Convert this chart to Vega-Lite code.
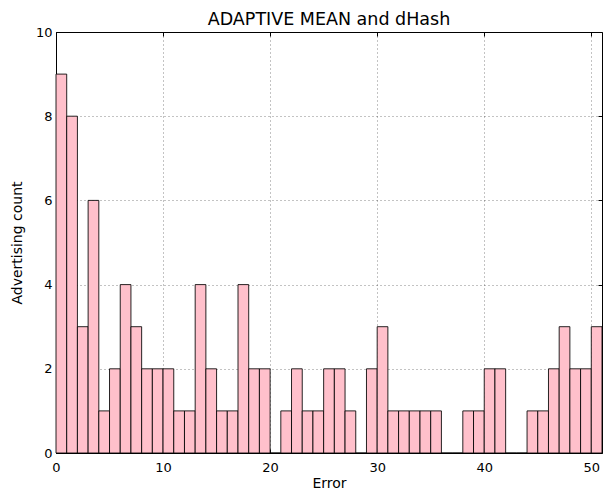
{
  "$schema": "https://vega.github.io/schema/vega-lite/v6.json",
  "width": 546,
  "height": 421,
  "autosize": {"type": "none"},
  "padding": {"left": 56, "top": 32, "right": 3, "bottom": 43},
  "background": "white",
  "title": {
    "text": "ADAPTIVE MEAN and dHash",
    "font": "DejaVu Sans",
    "fontSize": 17.5,
    "fontWeight": "normal",
    "color": "black",
    "offset": -2,
    "anchor": "middle"
  },
  "config": {
    "view": {"stroke": "black", "strokeWidth": 1},
    "axis": {
      "labelFont": "DejaVu Sans",
      "titleFont": "DejaVu Sans",
      "labelFontSize": 13,
      "titleFontSize": 14,
      "titleFontWeight": "normal",
      "labelColor": "black",
      "titleColor": "black",
      "labelFlush": false,
      "domain": false,
      "tickColor": "black",
      "tickSize": -4,
      "tickWidth": 1,
      "gridColor": "black",
      "gridOpacity": 0.8,
      "gridDash": [1, 3],
      "gridWidth": 0.6
    }
  },
  "resolve": {"axis": {"x": "independent", "y": "independent"}},
  "data": {
    "values": [
      {"bin_start": 0, "bin_end": 1, "count": 9},
      {"bin_start": 1, "bin_end": 2, "count": 8},
      {"bin_start": 2, "bin_end": 3, "count": 3},
      {"bin_start": 3, "bin_end": 4, "count": 6},
      {"bin_start": 4, "bin_end": 5, "count": 1},
      {"bin_start": 5, "bin_end": 6, "count": 2},
      {"bin_start": 6, "bin_end": 7, "count": 4},
      {"bin_start": 7, "bin_end": 8, "count": 3},
      {"bin_start": 8, "bin_end": 9, "count": 2},
      {"bin_start": 9, "bin_end": 10, "count": 2},
      {"bin_start": 10, "bin_end": 11, "count": 2},
      {"bin_start": 11, "bin_end": 12, "count": 1},
      {"bin_start": 12, "bin_end": 13, "count": 1},
      {"bin_start": 13, "bin_end": 14, "count": 4},
      {"bin_start": 14, "bin_end": 15, "count": 2},
      {"bin_start": 15, "bin_end": 16, "count": 1},
      {"bin_start": 16, "bin_end": 17, "count": 1},
      {"bin_start": 17, "bin_end": 18, "count": 4},
      {"bin_start": 18, "bin_end": 19, "count": 2},
      {"bin_start": 19, "bin_end": 20, "count": 2},
      {"bin_start": 20, "bin_end": 21, "count": 0},
      {"bin_start": 21, "bin_end": 22, "count": 1},
      {"bin_start": 22, "bin_end": 23, "count": 2},
      {"bin_start": 23, "bin_end": 24, "count": 1},
      {"bin_start": 24, "bin_end": 25, "count": 1},
      {"bin_start": 25, "bin_end": 26, "count": 2},
      {"bin_start": 26, "bin_end": 27, "count": 2},
      {"bin_start": 27, "bin_end": 28, "count": 1},
      {"bin_start": 28, "bin_end": 29, "count": 0},
      {"bin_start": 29, "bin_end": 30, "count": 2},
      {"bin_start": 30, "bin_end": 31, "count": 3},
      {"bin_start": 31, "bin_end": 32, "count": 1},
      {"bin_start": 32, "bin_end": 33, "count": 1},
      {"bin_start": 33, "bin_end": 34, "count": 1},
      {"bin_start": 34, "bin_end": 35, "count": 1},
      {"bin_start": 35, "bin_end": 36, "count": 1},
      {"bin_start": 36, "bin_end": 37, "count": 0},
      {"bin_start": 37, "bin_end": 38, "count": 0},
      {"bin_start": 38, "bin_end": 39, "count": 1},
      {"bin_start": 39, "bin_end": 40, "count": 1},
      {"bin_start": 40, "bin_end": 41, "count": 2},
      {"bin_start": 41, "bin_end": 42, "count": 2},
      {"bin_start": 42, "bin_end": 43, "count": 0},
      {"bin_start": 43, "bin_end": 44, "count": 0},
      {"bin_start": 44, "bin_end": 45, "count": 1},
      {"bin_start": 45, "bin_end": 46, "count": 1},
      {"bin_start": 46, "bin_end": 47, "count": 2},
      {"bin_start": 47, "bin_end": 48, "count": 3},
      {"bin_start": 48, "bin_end": 49, "count": 2},
      {"bin_start": 49, "bin_end": 50, "count": 2},
      {"bin_start": 50, "bin_end": 51, "count": 3}
    ]
  },
  "layer": [
    {
      "mark": {"type": "bar", "fill": "#ffc0cb", "stroke": "black", "strokeWidth": 1, "strokeOpacity": 0.85},
      "encoding": {
        "x": {
          "field": "bin_start",
          "type": "quantitative",
          "scale": {"domain": [0, 51], "nice": false, "zero": false},
          "axis": {
            "title": "Error",
            "values": [0, 10, 20, 30, 40, 50],
            "grid": true,
            "labelPadding": 12,
            "titlePadding": 2
          }
        },
        "x2": {"field": "bin_end"},
        "y": {
          "field": "count",
          "type": "quantitative",
          "scale": {"domain": [0, 10], "nice": false},
          "axis": {
            "title": "Advertising count",
            "values": [0, 2, 4, 6, 8, 10],
            "grid": true,
            "labelPadding": 8,
            "titlePadding": 11
          }
        },
        "y2": {"datum": 0}
      }
    },
    {
      "mark": {"type": "rule", "opacity": 0},
      "encoding": {
        "x": {
          "field": "bin_start",
          "type": "quantitative",
          "axis": {
            "orient": "top",
            "values": [0, 10, 20, 30, 40, 50],
            "labels": false,
            "title": null,
            "grid": false
          }
        },
        "y": {
          "field": "count",
          "type": "quantitative",
          "axis": {
            "orient": "right",
            "values": [0, 2, 4, 6, 8, 10],
            "labels": false,
            "title": null,
            "grid": false
          }
        }
      }
    }
  ]
}
